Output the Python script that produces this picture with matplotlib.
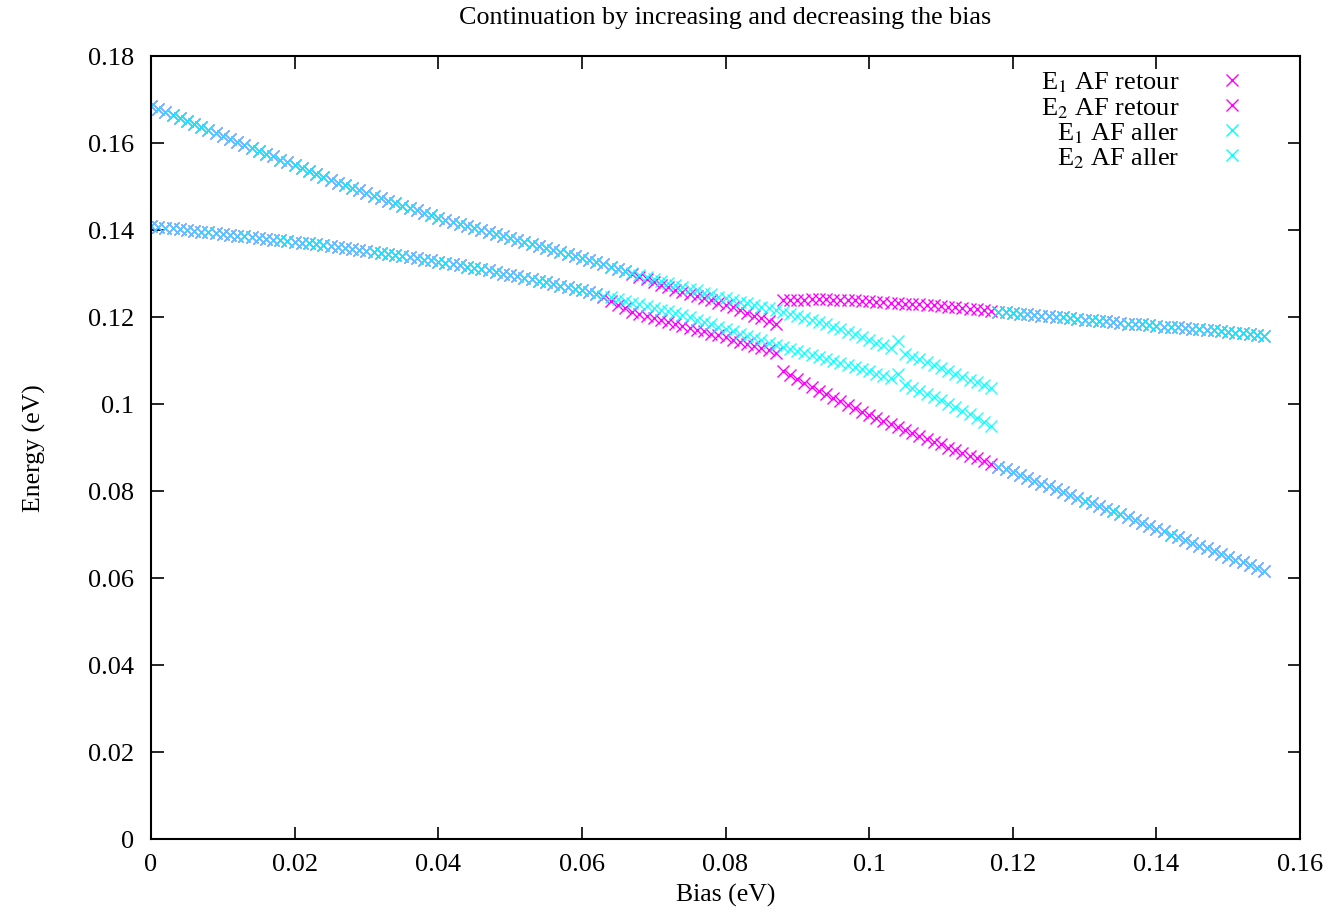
import numpy as np
import matplotlib
matplotlib.use("Agg")
import matplotlib.pyplot as plt
from matplotlib.ticker import FuncFormatter

plt.rcParams['font.family'] = ['Liberation Serif', 'DejaVu Serif']
plt.rcParams['mathtext.fontset'] = 'stix'

# energies (eV), one value per 1 mV of bias
# 0 .. 62 mV, both sweeps on the same curve
e1_common = [0.1685, 0.1678, 0.1671, 0.1664, 0.1657, 0.1650, 0.1643, 0.1636, 0.1630, 0.1623,
             0.1616, 0.1609, 0.1602, 0.1596, 0.1589, 0.1582, 0.1575, 0.1569, 0.1562, 0.1556,
             0.1549, 0.1542, 0.1535, 0.1529, 0.1522, 0.1515, 0.1509, 0.1503, 0.1497, 0.1491,
             0.1485, 0.1479, 0.1473, 0.1467, 0.1462, 0.1456, 0.1450, 0.1445, 0.1439, 0.1434,
             0.1428, 0.1423, 0.1418, 0.1414, 0.1409, 0.1404, 0.1399, 0.1395, 0.1390, 0.1386,
             0.1381, 0.1376, 0.1372, 0.1367, 0.1363, 0.1358, 0.1353, 0.1349, 0.1344, 0.1340,
             0.1335, 0.1330, 0.1326]
e2_common = [0.1409, 0.1407, 0.1405, 0.1404, 0.1402, 0.1400, 0.1398, 0.1396, 0.1395, 0.1393,
             0.1391, 0.1389, 0.1387, 0.1386, 0.1384, 0.1382, 0.1380, 0.1378, 0.1377, 0.1375,
             0.1373, 0.1371, 0.1369, 0.1367, 0.1365, 0.1363, 0.1361, 0.1359, 0.1357, 0.1354,
             0.1352, 0.1350, 0.1347, 0.1345, 0.1342, 0.1340, 0.1337, 0.1335, 0.1332, 0.1330,
             0.1327, 0.1324, 0.1321, 0.1319, 0.1316, 0.1313, 0.1310, 0.1307, 0.1303, 0.1300,
             0.1297, 0.1294, 0.1290, 0.1287, 0.1283, 0.1280, 0.1276, 0.1272, 0.1269, 0.1265,
             0.1261, 0.1257, 0.1253]

# 63 .. 117 mV, increasing bias (aller)
e1_aller_mid = [0.1321, 0.1316, 0.1311, 0.1306, 0.1302, 0.1297, 0.1292, 0.1288, 0.1283, 0.1279,
                0.1274, 0.1270, 0.1265, 0.1261, 0.1256, 0.1252, 0.1247, 0.1243, 0.1239, 0.1235,
                0.1232, 0.1228, 0.1224, 0.1220, 0.1216, 0.1212, 0.1208, 0.1203, 0.1198, 0.1193,
                0.1188, 0.1183, 0.1178, 0.1172, 0.1166, 0.1160, 0.1153, 0.1147, 0.1141, 0.1135,
                0.1128, 0.1145, 0.1116, 0.1109, 0.1103, 0.1096, 0.1090, 0.1083, 0.1076, 0.1070,
                0.1063, 0.1056, 0.1050, 0.1043, 0.1036]
e2_aller_mid = [0.1249, 0.1245, 0.1241, 0.1237, 0.1233, 0.1229, 0.1225, 0.1221, 0.1217, 0.1213,
                0.1209, 0.1204, 0.1199, 0.1194, 0.1189, 0.1184, 0.1178, 0.1172, 0.1167, 0.1162,
                0.1157, 0.1151, 0.1146, 0.1141, 0.1136, 0.1131, 0.1126, 0.1121, 0.1117, 0.1112,
                0.1108, 0.1103, 0.1099, 0.1094, 0.1090, 0.1085, 0.1080, 0.1075, 0.1070, 0.1065,
                0.1060, 0.1069, 0.1043, 0.1037, 0.1030, 0.1023, 0.1016, 0.1009, 0.1001, 0.0993,
                0.0985, 0.0977, 0.0968, 0.0959, 0.0950]

# 63 .. 87 mV, decreasing bias (retour)
e1_retour_mid = [0.1321, 0.1316, 0.1311, 0.1305, 0.1299, 0.1293, 0.1287, 0.1280, 0.1274, 0.1268,
                 0.1263, 0.1258, 0.1253, 0.1248, 0.1243, 0.1238, 0.1233, 0.1228, 0.1222, 0.1216,
                 0.1210, 0.1203, 0.1197, 0.1190, 0.1184]
e2_retour_mid = [0.1246, 0.1237, 0.1228, 0.1220, 0.1212, 0.1207, 0.1203, 0.1198, 0.1194, 0.1189,
                 0.1184, 0.1180, 0.1175, 0.1171, 0.1167, 0.1162, 0.1158, 0.1153, 0.1148, 0.1143,
                 0.1138, 0.1133, 0.1128, 0.1123, 0.1118]

# 88 .. 155 mV, other branch
e1_right = [0.1238, 0.1239, 0.1240, 0.1240, 0.1241, 0.1241, 0.1241, 0.1240, 0.1240, 0.1239,
            0.1238, 0.1237, 0.1236, 0.1235, 0.1234, 0.1233, 0.1232, 0.1231, 0.1230, 0.1229,
            0.1228, 0.1227, 0.1225, 0.1224, 0.1222, 0.1221, 0.1219, 0.1218, 0.1216, 0.1214,
            0.1212, 0.1211, 0.1209, 0.1208, 0.1206, 0.1205, 0.1203, 0.1202, 0.1200, 0.1199,
            0.1197, 0.1196, 0.1194, 0.1193, 0.1191, 0.1190, 0.1188, 0.1187, 0.1185, 0.1184,
            0.1183, 0.1181, 0.1180, 0.1178, 0.1177, 0.1176, 0.1174, 0.1173, 0.1172, 0.1170,
            0.1169, 0.1167, 0.1166, 0.1164, 0.1163, 0.1161, 0.1159, 0.1157]
e2_right = [0.1075, 0.1066, 0.1057, 0.1048, 0.1040, 0.1031, 0.1023, 0.1014, 0.1006, 0.0998,
            0.0990, 0.0982, 0.0975, 0.0968, 0.0961, 0.0954, 0.0947, 0.0940, 0.0933, 0.0926,
            0.0920, 0.0913, 0.0907, 0.0900, 0.0894, 0.0888, 0.0881, 0.0875, 0.0869, 0.0863,
            0.0856, 0.0850, 0.0843, 0.0837, 0.0830, 0.0824, 0.0817, 0.0811, 0.0804, 0.0798,
            0.0791, 0.0785, 0.0778, 0.0772, 0.0766, 0.0759, 0.0753, 0.0746, 0.0740, 0.0733,
            0.0726, 0.0720, 0.0713, 0.0707, 0.0700, 0.0694, 0.0687, 0.0681, 0.0674, 0.0668,
            0.0661, 0.0655, 0.0648, 0.0642, 0.0636, 0.0629, 0.0623, 0.0617]

aller_jump = 118  # aller lands on the other branch from here (mV)

bias = np.arange(156) * 1e-3
e1_retour = np.array(e1_common + e1_retour_mid + e1_right)
e2_retour = np.array(e2_common + e2_retour_mid + e2_right)
skip = aller_jump - 88
e1_aller = np.array(e1_common + e1_aller_mid + e1_right[skip:])
e2_aller = np.array(e2_common + e2_aller_mid + e2_right[skip:])
bias_aller = np.concatenate([bias[:118], bias[aller_jump:]])

fig = plt.figure(figsize=(13.32, 9.2), dpi=100)
ax = fig.add_axes([151/1332, 1 - 840/920, 1149/1332, 783/920])

mk = dict(linestyle='None', marker='x', markersize=8.5, markeredgewidth=1.0)
ax.plot(bias, e1_retour, color='#ff00ff', label='E$_1$ AF retour', **mk)
ax.plot(bias, e2_retour, color='#ff00ff', label='E$_2$ AF retour', **mk)
ax.plot(bias_aller, e1_aller, color='#00ffff', alpha=0.88, label='E$_1$ AF aller', **mk)
ax.plot(bias_aller, e2_aller, color='#00ffff', alpha=0.88, label='E$_2$ AF aller', **mk)

ax.set_xlim(0, 0.16)
ax.set_ylim(0, 0.18)
ax.set_xticks(np.arange(0, 0.161, 0.02))
ax.set_yticks(np.arange(0, 0.181, 0.02))
fmt = FuncFormatter(lambda v, p: '%g' % round(v, 4))
ax.xaxis.set_major_formatter(fmt)
ax.yaxis.set_major_formatter(fmt)
ax.tick_params(direction='in', length=9, width=1.2, top=True, right=True,
               labelsize=19, pad=12)
ax.tick_params(axis='x', pad=10)
for s in ax.spines.values():
    s.set_linewidth(1.5)

ax.set_xlabel('Bias (eV)', fontsize=18.5, labelpad=6)
ax.set_ylabel('Energy (eV)', fontsize=18.5, labelpad=30)
ax.set_title('Continuation by increasing and decreasing the bias', fontsize=18.8, pad=24)

leg = ax.legend(loc='upper right', bbox_to_anchor=(0.982, 1.006), frameon=False,
                markerfirst=False, fontsize=19, handlelength=2.2, handletextpad=0.9,
                labelspacing=0.02, borderaxespad=0.3)
for col in leg._legend_handle_box.get_children():
    col.align = 'right'
for h in leg.legend_handles:
    h.set_alpha(1)

fig.savefig('out.png', dpi=100)
